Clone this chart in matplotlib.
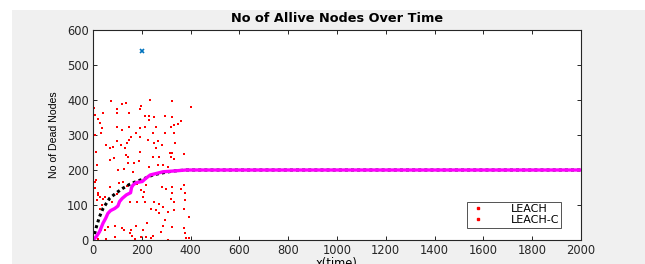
import matplotlib
matplotlib.use("Agg")
import matplotlib.pyplot as plt
from matplotlib.patches import Rectangle
from matplotlib.lines import Line2D

# LEACH scattered points (time, value)
leach_x = [4, 7, 20, 27, 41, 37, 34, 7, 52, 11, 18, 14, 7, 22, 27, 41, 49, 72, 97, 98, 117, 134, 147,
           97, 120, 147, 68, 82, 97, 116, 130, 141, 147, 156, 134, 145, 68, 86, 104, 127, 164, 142, 169,
           188, 193, 191, 177, 191, 196, 193, 233, 212, 229, 250, 212, 231, 246, 259, 226, 252, 265, 283,
           259, 270, 246, 229, 265, 287, 297, 323, 325, 295, 319, 330, 348, 359, 334, 336, 314, 325, 319,
           330, 307, 373, 400, 382]
leach_y = [378, 357, 345, 335, 363, 319, 307, 300, 271, 252, 214, 171, 148, 129, 122, 116, 124, 398, 373,
           364, 390, 392, 364, 322, 314, 324, 264, 266, 284, 271, 262, 276, 286, 295, 243, 238, 230, 233,
           200, 202, 195, 219, 219, 226, 252, 295, 305, 319, 383, 373, 400, 354, 354, 350, 322, 343, 305,
           324, 286, 276, 282, 272, 263, 238, 238, 209, 214, 214, 307, 398, 350, 354, 324, 307, 331, 340,
           328, 278, 249, 249, 238, 231, 210, 246, 379, 200]
leachc_x = [7, 19, 16, 38, 30, 78, 71, 100, 105, 123, 141, 150, 181, 205, 198, 180, 218, 207, 214, 239,
            259, 252, 270, 287, 295, 307, 271, 319, 323, 301, 283, 325, 362, 373, 377, 376, 373, 394, 373,
            376, 392, 383, 307, 325, 287, 280, 246, 218, 221, 205, 175, 157, 150, 127, 119, 91, 89, 61,
            49, 31, 22, 52, 161, 171, 198, 239, 330, 330]
leachc_y = [167, 133, 114, 100, 88, 108, 152, 131, 164, 167, 154, 110, 110, 124, 143, 160, 157, 138, 110,
            90, 86, 110, 103, 95, 57, 81, 76, 116, 135, 147, 152, 152, 147, 157, 133, 114, 90, 67, 33,
            19, 5, 7, 0, 38, 40, 24, 11, 10, 48, 29, 40, 30, 19, 29, 33, 40, 10, 38, 29, 29, 4, 2, 11,
            2, 8, 5, 110, 86]

# Cumulative curves
black_x = [0, 14, 27, 41, 68, 96, 123, 150, 177, 205, 246, 287, 328, 382, 420, 2000]
black_y = [0, 38, 67, 90, 119, 135, 148, 159, 167, 174, 186, 192, 197, 200, 200, 200]
mag_x = [0, 14, 27, 41, 52, 61, 72, 89, 102, 109, 120, 137, 154, 158, 164, 177, 202, 216, 235, 259, 287,
         328, 382, 420, 2000]
mag_y = [0, 10, 24, 48, 62, 76, 84, 90, 97, 110, 119, 129, 135, 150, 157, 164, 167, 176, 186, 190, 195,
         197, 200, 200, 200]

marker_x = [200]
marker_y = [540]

xticks = [0, 200, 400, 600, 800, 1000, 1200, 1400, 1600, 1800, 2000]
yticks = [0, 100, 200, 300, 400, 500, 600]

plt.rcParams['font.family'] = ['DejaVu Sans']

fig = plt.figure(figsize=(6.45, 2.64), dpi=100, facecolor='white')
fig.patches.append(Rectangle((12 / 645, 0), 1, 1 - 10 / 264, transform=fig.transFigure,
                             facecolor='#f0f0f0', edgecolor='none', zorder=-10))
ax = fig.add_axes([93 / 645, 24 / 264, 488 / 645, 210 / 264])
ax.set_facecolor('white')

ax.plot(leach_x, leach_y, linestyle='none', marker='s', markersize=1.8, color='red', markeredgewidth=0)
ax.plot(leachc_x, leachc_y, linestyle='none', marker='s', markersize=1.8, color='red', markeredgewidth=0)
ax.plot(black_x, black_y, color='black', linestyle=(0, (1, 1)), linewidth=2.2)
ax.plot(mag_x, mag_y, color='#ff00ff', linewidth=2.4)
ax.plot(marker_x, marker_y, linestyle='none', marker='x', markersize=3.5, color='#0072BD', markeredgewidth=1.2)

ax.set_xlim(0, 2000)
ax.set_ylim(0, 600)
ax.set_xticks(xticks)
ax.set_yticks(yticks)
ax.tick_params(direction='in', length=3, width=0.7, labelsize=8.3, top=True, right=True,
               colors='#262626', pad=3)
for s in ax.spines.values():
    s.set_linewidth(0.8)
    s.set_color('#262626')

ax.set_title('No of Allive Nodes Over Time', fontsize=9.3, fontweight='bold', pad=6)
ax.set_xlabel('x(time)', fontsize=8.3, labelpad=0)
ax.set_ylabel('No of Dead Nodes', fontsize=7.6, family=['Liberation Sans'], labelpad=6)

handles = [Line2D([], [], linestyle='none', marker='s', markersize=2, color='red'),
           Line2D([], [], linestyle='none', marker='s', markersize=2, color='red')]
leg = ax.legend(handles, ['LEACH', 'LEACH-C'], loc='lower right', fontsize=8,
                frameon=True, fancybox=False, edgecolor='#262626', borderpad=0.2,
                labelspacing=0.1, handletextpad=2.2, handlelength=1.5,
                bbox_to_anchor=(0.971, 0.033))
leg.get_frame().set_linewidth(0.7)

fig.savefig('out.png', dpi=100, facecolor=fig.get_facecolor())
